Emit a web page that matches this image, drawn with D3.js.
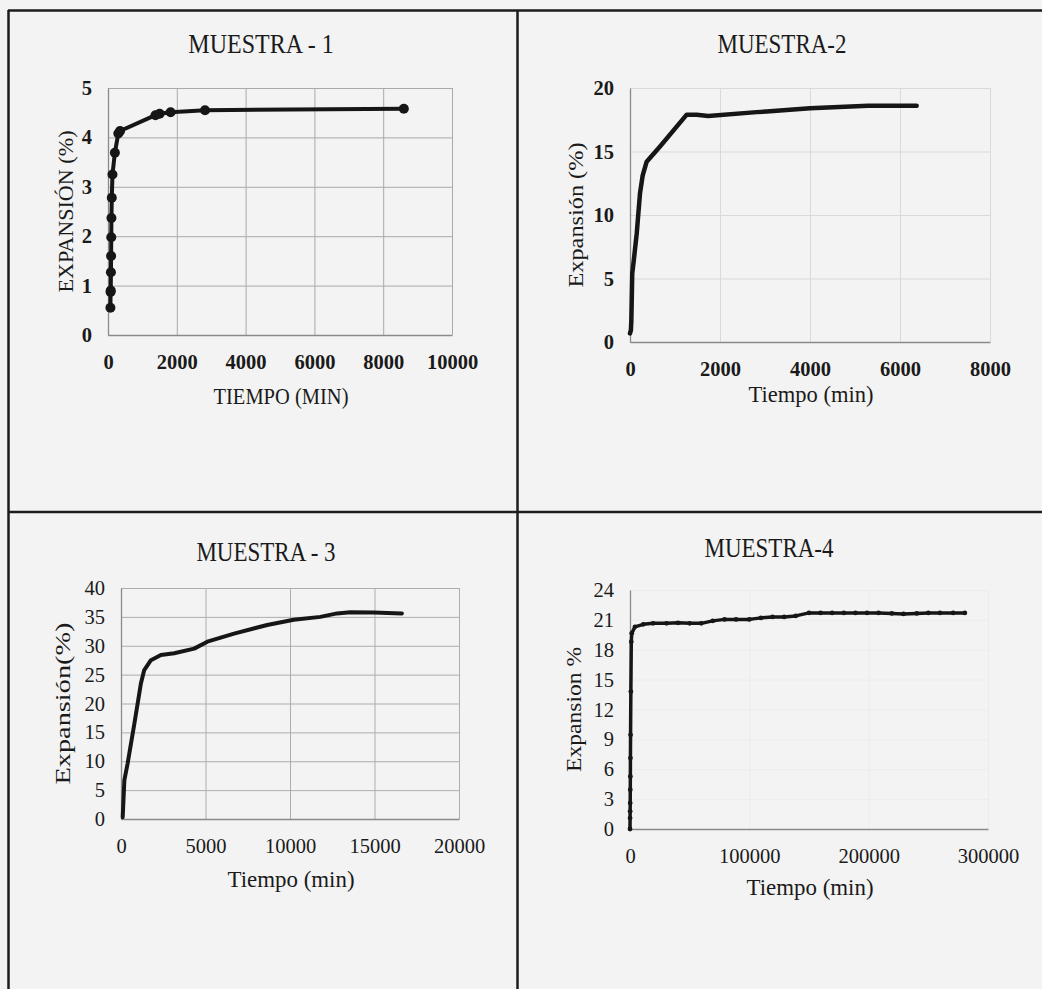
<!DOCTYPE html>
<html>
<head>
<meta charset="utf-8">
<script src="https://cdn.jsdelivr.net/npm/d3@7"></script>
<style>
  body { margin: 0; background: #f3f3f3; }
  svg { display: block; }
  text { font-family: "Liberation Serif", "Times New Roman", serif; fill: #1a1a1a; }
</style>
</head>
<body>
<div id="chart"></div>
<script>

// MUESTRA - 1
var m1Time = [70, 75, 80, 85, 90, 95, 100, 110, 130, 200, 300, 350, 1380, 1500, 1820, 2820, 8600];
var m1Exp  = [0.55, 0.87, 0.9, 1.27, 1.6, 1.98, 2.37, 2.78, 3.25, 3.69, 4.08, 4.13, 4.45, 4.48, 4.51, 4.55, 4.58];

// MUESTRA-2
var m2Time = [0, 20, 30, 40, 50, 80, 150, 222, 281, 370, 667, 1260, 1480, 1740, 2815, 3037, 4000, 5290, 6370];
var m2Exp  = [0.68, 0.94, 1.73, 3.57, 5.4, 6.3, 8.56, 11.7, 13.1, 14.2, 15.4, 17.9, 17.9, 17.8, 18.1, 18.15, 18.4, 18.6, 18.6];

// MUESTRA - 3
var m3Time = [100, 200, 390, 790, 1180, 1375, 1770, 2360, 3150, 4330, 5110, 6690, 8650, 10220, 11800, 12780, 13570, 14950, 16620];
var m3Exp  = [0.3, 6.75, 9.6, 16.5, 23.5, 25.8, 27.5, 28.4, 28.7, 29.5, 30.7, 32.1, 33.6, 34.5, 35.0, 35.6, 35.8, 35.75, 35.6];

// MUESTRA-4
var m4Time = [0, 60, 120, 180, 240, 300, 360, 480, 720, 1080, 1440, 4170, 11100, 19400, 30600, 40300, 50000, 59700, 69400,
              79200, 88900, 100000, 109700, 119400, 129200, 138900, 150000, 159700, 169400, 179200, 188900, 198600,
              208300, 219400, 229200, 240300, 250000, 259700, 270800, 280600];
var m4Exp  = [0, 1.1, 1.77, 2.6, 3.94, 5.28, 7.12, 9.46, 13.8, 18.8, 19.65, 20.3, 20.55, 20.65, 20.65, 20.7, 20.65, 20.65, 20.9,
              21.05, 21.05, 21.05, 21.2, 21.3, 21.3, 21.4, 21.7, 21.7, 21.7, 21.7, 21.7, 21.7,
              21.7, 21.65, 21.6, 21.65, 21.7, 21.7, 21.7, 21.7];

// tick values
var m1XTicks = [0, 2000, 4000, 6000, 8000, 10000];
var m1YTicks = [0, 1, 2, 3, 4, 5];
var m2XTicks = [0, 2000, 4000, 6000, 8000];
var m2YTicks = [0, 5, 10, 15, 20];
var m3XTicks = [0, 5000, 10000, 15000, 20000];
var m3YTicks = [0, 5, 10, 15, 20, 25, 30, 35, 40];
var m4XTicks = [0, 100000, 200000, 300000];
var m4YTicks = [0, 3, 6, 9, 12, 15, 18, 21, 24];

var titles = ["MUESTRA - 1", "MUESTRA-2", "MUESTRA - 3", "MUESTRA-4"];
var xTitles = ["TIEMPO (MIN)", "Tiempo (min)", "Tiempo (min)", "Tiempo (min)"];
var yTitles = ["EXPANSIÓN (%)", "Expansión (%)", "Expansión(%)", "Expansion %"];

var W = 1042, H = 989;

var svg = d3.select("#chart").append("svg")
  .attr("width", W)
  .attr("height", H);

svg.append("rect").attr("width", W).attr("height", H).attr("fill", "#f3f3f3");

// panel layout (pixels)
var panels = [
  { t: m1Time, v: m1Exp, xt: m1XTicks, yt: m1YTicks, x0: 108, x1: 452, y0: 335, y1: 88,
    cx: 261, titleY: 53, titleSize: 24, xTitleY: 404, xTitleLen: 135, yTitleX: 65, yTitleLen: 162,
    grid: "#a9a9a9", lw: 4, r: 5, bold: true },
  { t: m2Time, v: m2Exp, xt: m2XTicks, yt: m2YTicks, x0: 630, x1: 990, y0: 342, y1: 88,
    cx: 782, titleY: 53, titleSize: 23, xTitleY: 402, xTitleLen: 125, yTitleX: 575, yTitleLen: 145,
    grid: "#d9d9d9", lw: 4.5, r: 1.6, bold: true },
  { t: m3Time, v: m3Exp, xt: m3XTicks, yt: m3YTicks, x0: 121, x1: 459, y0: 819, y1: 588,
    cx: 266, titleY: 561, titleSize: 23, xTitleY: 887, xTitleLen: 127, yTitleX: 62, yTitleLen: 162,
    grid: "#adadad", lw: 4, r: 0, bold: false },
  { t: m4Time, v: m4Exp, xt: m4XTicks, yt: m4YTicks, x0: 630, x1: 988, y0: 829, y1: 590,
    cx: 769, titleY: 557, titleSize: 23, xTitleY: 895, xTitleLen: 127, yTitleX: 573, yTitleLen: 125,
    grid: "#ececec", lw: 3.5, r: 2.4, bold: false }
];

panels.forEach(function(p, i) {

  var x = d3.scaleLinear()
    .domain([p.xt[0], p.xt[p.xt.length - 1]])
    .range([p.x0, p.x1]);

  var y = d3.scaleLinear()
    .domain([p.yt[0], p.yt[p.yt.length - 1]])
    .range([p.y0, p.y1]);

  var g = svg.append("g");

  //GRID
  g.append("g")
    .attr("transform", "translate(0," + p.y0 + ")")
    .call(d3.axisBottom(x).tickValues(p.xt).tickSize(-(p.y0 - p.y1)).tickFormat(""))
    .call(function(a) {
      a.select(".domain").remove();
      a.selectAll("line").attr("stroke", p.grid).attr("stroke-width", 1);
    });

  g.append("g")
    .attr("transform", "translate(" + p.x0 + ",0)")
    .call(d3.axisLeft(y).tickValues(p.yt).tickSize(-(p.x1 - p.x0)).tickFormat(""))
    .call(function(a) {
      a.select(".domain").remove();
      a.selectAll("line").attr("stroke", p.grid).attr("stroke-width", 1);
    });

  // axis lines + labels
  var xAxis = g.append("g")
    .attr("transform", "translate(0," + p.y0 + ")")
    .call(d3.axisBottom(x).tickValues(p.xt).tickSize(0).tickPadding(19).tickFormat(d3.format("d")));
  xAxis.select(".domain").attr("stroke", "#8a8a8a").attr("stroke-width", 1.3);

  var yAxis = g.append("g")
    .attr("transform", "translate(" + p.x0 + ",0)")
    .call(d3.axisLeft(y).tickValues(p.yt).tickSize(0).tickPadding(16).tickFormat(d3.format("d")));
  yAxis.select(".domain").attr("stroke", "#8a8a8a").attr("stroke-width", 1.3);

  g.selectAll(".tick text")
    .style("font-family", "'Liberation Serif', serif")
    .style("font-size", "20.5px")
    .style("font-weight", p.bold ? "bold" : "normal")
    .attr("fill", "#1a1a1a");

  // curve
  var pts = p.t.map(function(d, k) { return [d, p.v[k]]; });

  var line = d3.line()
    .x(function(d) { return x(d[0]); })
    .y(function(d) { return y(d[1]); });

  g.append("path")
    .datum(pts)
    .attr("d", line)
    .attr("fill", "none")
    .attr("stroke", "#161616")
    .attr("stroke-width", p.lw)
    .attr("stroke-linejoin", "round")
    .attr("stroke-linecap", "round");

  if (p.r > 0) {
    g.selectAll(".pt")
      .data(pts)
      .enter().append("circle")
      .attr("class", "pt")
      .attr("cx", function(d) { return x(d[0]); })
      .attr("cy", function(d) { return y(d[1]); })
      .attr("r", p.r)
      .attr("fill", "#161616");
  }

  // titles (scan is a bit stretched vertically)
  g.append("text")
    .attr("transform", "translate(" + p.cx + "," + p.titleY + ") scale(1,1.15)")
    .attr("text-anchor", "middle")
    .style("font-size", p.titleSize + "px")
    .text(titles[i]);

  g.append("text")
    .attr("transform", "translate(" + ((p.x0 + p.x1) / 2 + 1) + "," + p.xTitleY + ") scale(1,1.08)")
    .attr("text-anchor", "middle")
    .attr("textLength", p.xTitleLen)
    .attr("lengthAdjust", "spacingAndGlyphs")
    .style("font-size", "21px")
    .text(xTitles[i]);

  g.append("text")
    .attr("transform", "translate(" + p.yTitleX + "," + (p.y0 + p.y1) / 2 + ") rotate(-90)")
    .attr("text-anchor", "middle")
    .attr("dy", "0.35em")
    .attr("textLength", p.yTitleLen)
    .attr("lengthAdjust", "spacingAndGlyphs")
    .style("font-size", "22px")
    .text(yTitles[i]);
});

// FRAME
var frame = svg.append("g")
  .attr("stroke", "#1c1c1c")
  .attr("stroke-width", 2.5);

frame.append("line").attr("x1", 8).attr("y1", 10.5).attr("x2", W).attr("y2", 10.5);
frame.append("line").attr("x1", 8.5).attr("y1", 10).attr("x2", 8.5).attr("y2", H);
frame.append("line").attr("x1", 517.5).attr("y1", 10).attr("x2", 517.5).attr("y2", H);
frame.append("line").attr("x1", 8).attr("y1", 512).attr("x2", W).attr("y2", 512);

</script>
</body>
</html>
